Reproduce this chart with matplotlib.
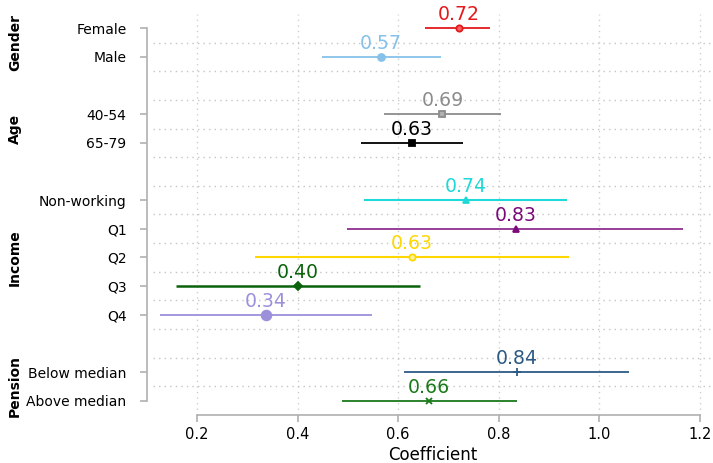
import numpy as np
import matplotlib.pyplot as plt
import matplotlib.transforms as mtransforms

# data
labels = ["Female", "Male", "40-54", "65-79", "Non-working", "Q1", "Q2", "Q3", "Q4",
          "Below median", "Above median"]
ypos = [0, 1, 3, 4, 6, 7, 8, 9, 10, 12, 13]
coef = [0.72, 0.57, 0.69, 0.63, 0.74, 0.83, 0.63, 0.40, 0.34, 0.84, 0.66]
marker_x = [0.720, 0.566, 0.688, 0.627, 0.735, 0.834, 0.627, 0.401, 0.337, 0.836, 0.662]
ci_low = [0.654, 0.449, 0.572, 0.526, 0.533, 0.499, 0.315, 0.158, 0.126, 0.612, 0.488]
ci_high = [0.783, 0.685, 0.804, 0.729, 0.935, 1.166, 0.939, 0.643, 0.547, 1.058, 0.837]

groups = ["Gender", "Age", "Income", "Pension"]
# rows (y positions) belonging to each group
group_rows = [[0, 1], [3, 4], [6, 7, 8, 9, 10], [12, 13]]

colors = ["#e31a1c", "#85c1e9", "#8c8c8c", "#000000", "#1fd8d8", "#7b0a7b",
          "#ffd700", "#0b620b", "#9b91db", "#2c5a85", "#1a7a1a"]
markers = ["o", "o", "s", "s", "^", "^", "o", "D", "o", "+", "x"]
msizes = [4.5, 5, 4.5, 5, 5, 5, 4.5, 4, 7, 5.5, 4]
mfaces = ["#ff6060", None, "#b0b0b0", None, None, None, "#fff3a0", None, None, None, None]
lws = [1.3, 1.3, 1.3, 1.3, 1.5, 1.1, 1.5, 1.8, 1.3, 1.3, 1.3]

fig = plt.figure(figsize=(7.13, 4.63), dpi=100)
ax = fig.add_axes([153 / 713, 1 - 415 / 463, (712 - 153) / 713, (415 - 14) / 463])

for i in range(len(labels)):
    c = colors[i]
    ax.hlines(ypos[i], ci_low[i], ci_high[i], color=c, lw=lws[i], zorder=2)
    mf = mfaces[i] if mfaces[i] is not None else c
    ax.plot(marker_x[i], ypos[i], marker=markers[i], ms=msizes[i], color=c,
            mfc=mf, mec=c, mew=1.3, zorder=3)
    ax.annotate(f"{coef[i]:.2f}", (marker_x[i], ypos[i]), xytext=(0, 3),
                textcoords="offset points", ha="center", va="bottom",
                fontsize=13.6, color=c, zorder=4)

ax.set_xlim(0.1125, 1.224)
ax.set_ylim(13.5, -0.5)
ax.set_yticks(ypos)
ax.set_yticklabels(labels, fontsize=10.2, color="#222222")
ax.set_xticks([0.2, 0.4, 0.6, 0.8, 1.0, 1.2])
ax.set_xticklabels(["0.2", "0.4", "0.6", "0.8", "1.0", "1.2"], fontsize=10.5)
ax.set_yticks(np.arange(0.5, 13, 1), minor=True)
ax.tick_params(axis="y", which="minor", length=0)
ax.tick_params(axis="both", which="major", color="#b0b0b0", length=5, width=1.2)
ax.tick_params(axis="y", which="major", pad=10)
ax.grid(True, axis="x", which="major", ls=(0, (1, 3)), color="#cfcfcf", lw=1)
ax.grid(True, axis="y", which="minor", ls=(0, (1, 3)), color="#c4c4c4", lw=1)
ax.set_axisbelow(True)
ax.set_xlabel("Coefficient", fontsize=12, labelpad=3)

for s in ["top", "right"]:
    ax.spines[s].set_visible(False)
ax.spines["left"].set_position(("outward", 4))
ax.spines["left"].set_bounds(0, 13)
ax.spines["bottom"].set_bounds(0.2, 1.2)
for s in ["left", "bottom"]:
    ax.spines[s].set_color("#b0b0b0")
    ax.spines[s].set_linewidth(1.2)

trans = mtransforms.blended_transform_factory(fig.transFigure, ax.transData)
for g, rows in zip(groups, group_rows):
    yc = np.mean(rows)
    ax.text(15 / 713, yc, g, transform=trans, rotation=90, ha="center", va="center",
            fontsize=10, fontweight="bold")

fig.savefig("out.png", dpi=100)
